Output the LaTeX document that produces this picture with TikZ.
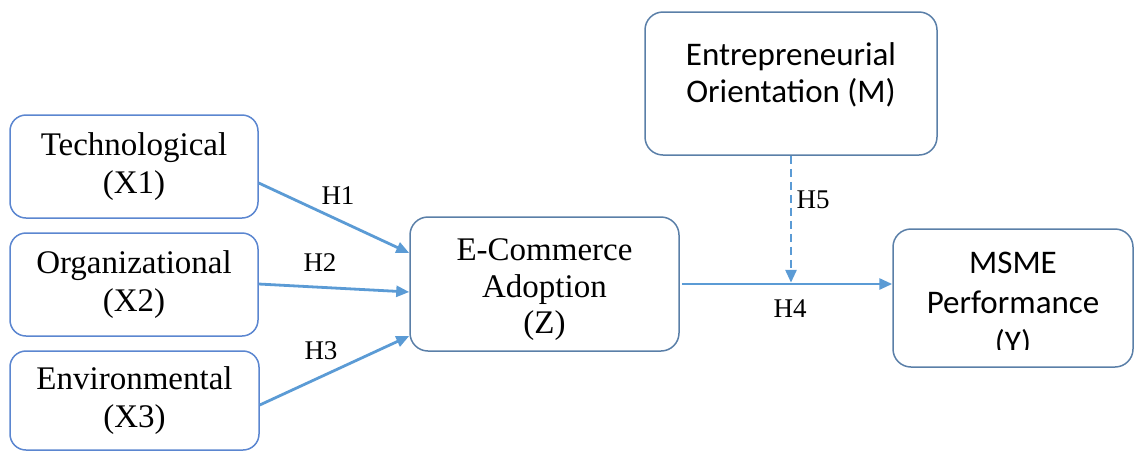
\documentclass[tikz,border=0pt]{standalone}
\usepackage{fontspec}
\setmainfont{Liberation Serif}
\newfontfamily\calib{Carlito}
\usetikzlibrary{arrows.meta,calc}
\definecolor{boxA}{HTML}{5B86D0}
\definecolor{boxB}{HTML}{5A7FA8}
\definecolor{arr}{HTML}{5B9BD5}
\begin{document}
\begin{tikzpicture}[x=1pt,y=-1pt,
  boxl/.style={draw=boxA,line width=1.5pt,rounded corners=16pt,align=center,inner sep=0pt,
     font=\fontsize{33}{38}\selectfont},
  boxr/.style={draw=boxB,line width=1.5pt,rounded corners=18pt,align=center,inner sep=0pt},
  link/.style={draw=arr,line width=2.8pt,-{Triangle[length=13pt,width=11pt]}},
  hlab/.style={font=\fontsize{27}{30}\selectfont,inner sep=0pt}]
\useasboundingbox (0,0) rectangle (1135,451);
\node[boxl,minimum width=248,minimum height=103] (tech) at (134,166.5) {Technological\\(X1)};
\node[boxl,minimum width=248,minimum height=103] (org) at (134,284.5) {Organizational\\(X2)};
\node[boxl,minimum width=249,minimum height=99] (env) at (134.5,400.5) {Environmental\\(X3)};
\node[boxr,minimum width=269,minimum height=134] (ec) at (544.5,284) {};
\node[font=\fontsize{33}{36.5}\selectfont,align=center,inner sep=0pt] (ect) at (544.5,290) {E-Commerce\\Adoption\\(Z)};
\node[boxr,minimum width=292,minimum height=143] (eo) at (791,83.5) {};
\node[font=\calib\fontsize{33}{37}\selectfont,align=center,inner sep=0pt] (eot) at (791,75) {Entrepreneurial\\Orientation (M)};
\node[boxr,minimum width=240,minimum height=138] (msme) at (1013,298) {};
\begin{scope}
\clip (893,229) rectangle (1133,349);
\node[font=\calib\fontsize{33}{40}\selectfont,align=center,inner sep=0pt,anchor=north] (msmet) at (1013,252) {MSME\\Performance\\(Y)};
\end{scope}
\draw[link] ($(tech.east)+(0,16.5)$) -- ($(ec.west)+(0,-31)$);
\draw[link] ($(org.east)+(0,-0.5)$) -- ($(ec.west)+(0,8)$);
\draw[link] ($(env.east)+(0,4.5)$) -- ($(ec.west)+(0,52)$);
\draw[link] ($(ec.east)+(2,0)$) coordinate (h4s) -- (h4s -| msme.west) coordinate (h4e);
\coordinate (h5e) at ($(eo.south)+(0,127)$);
\draw[link,dash pattern=on 8pt off 5pt] (eo.south) -- (h5e);
\node[hlab] (h1) at (338,196) {H1};
\node[hlab] (h2) at (320,263) {H2};
\node[hlab] (h3) at (321,351) {H3};
\node[hlab] (h4) at (790,309) {H4};
\node[hlab] (h5) at (813,200) {H5};
\end{tikzpicture}
\end{document}
